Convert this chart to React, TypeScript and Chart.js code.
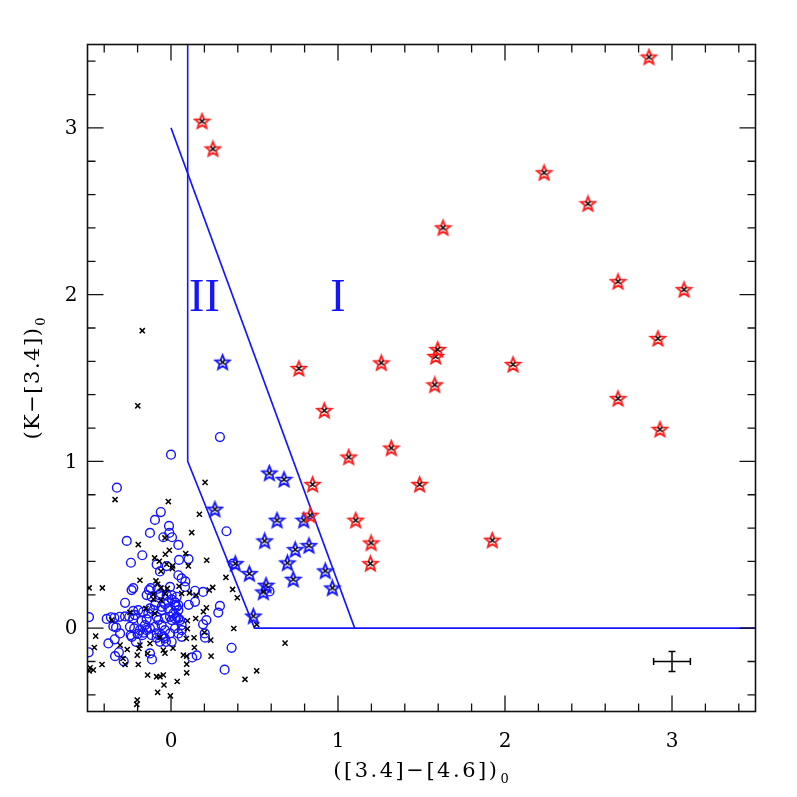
import React, { useEffect, useRef } from "react";
import { Chart, registerables } from "chart.js";
Chart.register(...registerables);

const X_MIN = -0.5;
const X_MAX = 3.5;
const Y_MIN = -0.5;
const Y_MAX = 3.5;
const xTickLabels = [0, 1, 2, 3];
const yTickLabels = [0, 1, 2, 3];
const MINOR_STEP = 0.2;
const X_TITLE = "([3.4]−[4.6])";
const Y_TITLE = "(K−[3.4])";
const TITLE_SUB = "0";

const redStars: [number, number][] = [
  [0.186, 3.04], [0.251, 2.874], [0.766, 1.557], [0.918, 1.305], [0.848, 0.862],
  [0.834, 0.677], [1.064, 1.026], [1.259, 1.591], [1.319, 1.08], [1.106, 0.647],
  [1.198, 0.511], [1.194, 0.387], [1.489, 0.862], [1.579, 1.459], [1.585, 1.629],
  [1.597, 1.671], [1.629, 2.401], [1.924, 0.527], [2.048, 1.581], [2.234, 2.731],
  [2.497, 2.545], [2.677, 2.078], [2.677, 1.377], [2.862, 3.425], [2.916, 1.737],
  [2.928, 1.192], [3.072, 2.03],
];

const blueStars: [number, number][] = [
  [0.309, 1.595], [0.589, 0.93], [0.677, 0.892], [0.263, 0.713], [0.635, 0.647],
  [0.795, 0.647], [0.561, 0.523], [0.744, 0.471], [0.826, 0.495], [0.697, 0.391],
  [0.924, 0.343], [0.732, 0.293], [0.966, 0.241], [0.469, 0.327], [0.385, 0.387],
  [0.569, 0.257], [0.553, 0.217], [0.493, 0.072],
];

const blueCircles: [number, number][] = [
  [0.293, 1.146], [0.0, 1.04], [-0.324, 0.842], [0.332, 0.581], [-0.061, 0.696], [-0.096, 0.649],
  [-0.012, 0.613], [-0.01, 0.571], [-0.126, 0.571], [0.006, 0.545], [-0.046, 0.545], [-0.265, 0.523],
  [0.044, 0.499], [-0.172, 0.437], [-0.24, 0.392], [-0.086, 0.382], [-0.026, 0.372], [0.048, 0.409],
  [0.105, 0.414], [-0.066, 0.34], [0.044, 0.317], [0.064, 0.298], [0.086, 0.28], [0.37, 0.387],
  [-0.226, 0.24], [-0.236, 0.228], [-0.275, 0.152], [-0.132, 0.228], [-0.122, 0.24], [-0.08, 0.236],
  [-0.006, 0.247], [-0.062, 0.208], [0.084, 0.247], [0.144, 0.224], [0.192, 0.217], [0.106, 0.14],
  [0.293, 0.133], [0.283, 0.093], [0.212, 0.048], [0.192, 0.023], [0.202, -0.032], [0.204, -0.057],
  [0.064, -0.052], [0.363, -0.118], [0.321, -0.249], [0.154, -0.164], [0.127, -0.176], [-0.491, 0.066],
  [-0.493, -0.145], [-0.385, 0.055], [-0.36, 0.065], [-0.339, 0.062], [-0.345, 0.01], [-0.329, 0.004],
  [-0.375, -0.092], [-0.337, -0.067], [-0.335, -0.168], [-0.312, -0.145], [-0.283, -0.199], [-0.307, 0.068],
  [-0.275, 0.07], [-0.25, 0.068], [-0.226, 0.058], [-0.226, 0.103], [-0.216, 0.078], [-0.196, 0.108],
  [-0.166, 0.098], [-0.246, 0.008], [-0.241, -0.042], [-0.22, -0.002], [-0.21, -0.082], [-0.2, -0.035],
  [-0.176, 0.043], [-0.156, 0.018], [-0.166, -0.027], [-0.146, -0.012], [-0.146, 0.054], [-0.126, -0.152],
  [-0.114, -0.188], [-0.136, 0.088], [-0.106, 0.108], [-0.086, 0.068], [-0.126, 0.118], [-0.096, 0.138],
  [-0.056, 0.128], [-0.036, 0.144], [-0.016, 0.158], [0.004, 0.172], [0.024, 0.154], [0.034, 0.128],
  [-0.056, 0.108], [-0.016, 0.118], [0.024, 0.138], [0.044, 0.108], [0.044, 0.138], [-0.076, 0.048],
  [-0.056, 0.018], [-0.036, -0.012], [-0.086, -0.032], [-0.046, -0.052], [-0.066, -0.082], [-0.03, -0.082],
  [-0.006, 0.068], [0.014, 0.088], [0.024, 0.058], [0.054, 0.048], [-0.036, 0.058], [0.004, 0.048],
  [0.034, 0.068], [0.064, -0.012], [0.044, -0.032], [0.064, 0.018], [-0.186, -0.012], [-0.172, -0.042],
  [-0.305, -0.032], [0.144, 0.158], [-0.146, 0.198], [-0.116, 0.188], [-0.072, 0.198], [-0.026, 0.198],
  [0.004, 0.198], [0.034, 0.188], [-0.126, -0.002], [-0.096, 0.008], [-0.235, -0.052], [-0.116, -0.042],
  [-0.086, -0.058], [-0.056, -0.042], [-0.036, -0.062], [-0.006, -0.032], [0.024, -0.002], [0.004, -0.082],
  [0.044, 0.058], [0.59, 0.22],
];

const crosses: [number, number][] = [
  [-0.172, 1.784], [-0.199, 1.333], [0.204, 0.874], [-0.335, 0.771], [-0.016, 0.759], [0.17, 0.683],
  [0.124, 0.573], [-0.196, 0.501], [-0.036, 0.541], [-0.01, 0.467], [-0.034, 0.443], [-0.098, 0.421],
  [-0.07, 0.401], [0.088, 0.447], [0.214, 0.407], [0.104, 0.373], [0.01, 0.373], [-0.026, 0.383],
  [-0.06, 0.341], [0.008, 0.357], [-0.186, 0.287], [-0.49, 0.241], [-0.411, 0.241], [-0.09, 0.283],
  [-0.08, 0.263], [-0.06, 0.241], [-0.106, 0.202], [-0.036, 0.208], [-0.022, 0.238], [0.048, 0.251],
  [0.064, 0.208], [0.11, 0.211], [0.15, 0.198], [0.229, 0.228], [0.25, 0.244], [0.329, 0.304],
  [0.369, 0.232], [0.397, 0.182], [0.212, 0.122], [0.194, 0.098], [0.148, 0.058], [0.098, 0.044],
  [0.098, -0.004], [0.092, -0.062], [0.138, -0.058], [0.2, -0.026], [0.238, -0.072], [0.14, -0.116],
  [0.074, -0.162], [0.094, -0.168], [0.24, -0.168], [0.094, -0.216], [0.094, -0.268], [0.037, -0.32],
  [0.443, -0.307], [0.513, -0.256], [0.376, -0.002], [0.513, 0.022], [-0.106, 0.174], [-0.06, 0.168],
  [-0.246, 0.094], [-0.355, 0.048], [-0.096, 0.088], [-0.15, 0.118], [-0.451, -0.048], [-0.459, -0.116],
  [-0.305, -0.102], [-0.262, -0.128], [-0.192, -0.122], [-0.202, -0.162], [-0.14, -0.152], [-0.036, -0.15],
  [-0.046, -0.132], [0.012, -0.12], [-0.287, -0.182], [-0.275, -0.218], [-0.413, -0.218], [-0.196, -0.218],
  [-0.485, -0.238], [-0.465, -0.251], [-0.49, -0.257], [-0.14, -0.281], [-0.086, -0.291], [-0.066, -0.291],
  [-0.046, -0.281], [-0.042, -0.341], [-0.08, -0.385], [-0.004, -0.406], [-0.202, -0.431], [-0.205, -0.457],
  [-0.066, -0.056], [-0.126, -0.092], [-0.186, -0.102], [0.683, -0.09],
];

const boundaryII: [number, number][] = [[0.1, 3.5], [0.1, 1.0], [0.5, 0.0], [3.5, 0.0]];
const boundaryI: [number, number][] = [[0.0, 3.0], [1.1, 0.0]];
const regionLabelText = ["II", "I"];
const regionLabelX = [0.2, 1.0];
const regionLabelY = [2.0, 2.0];
const errX = [3.0];
const errY = [-0.2];
const errDX = [0.11];
const errDY = [0.06];

const BLUE = "#1414ff";
const RED = "#ff1a1a";

function toXY(arr: [number, number][]) {
  return arr.map(([x, y]) => ({ x, y }));
}

function makeStar(color: string): HTMLCanvasElement {
  const c = document.createElement("canvas");
  const S = 19;
  c.width = S;
  c.height = S;
  const ctx = c.getContext("2d")!;
  const cx = S / 2, cy = S / 2 + 0.6;
  const R = 7.6, r = 3.3;
  ctx.beginPath();
  for (let i = 0; i < 10; i++) {
    const rad = i % 2 === 0 ? R : r;
    const a = -Math.PI / 2 + (i * Math.PI) / 5;
    const px = cx + rad * Math.cos(a);
    const py = cy + rad * Math.sin(a);
    if (i === 0) ctx.moveTo(px, py);
    else ctx.lineTo(px, py);
  }
  ctx.closePath();
  ctx.lineJoin = "miter";
  ctx.strokeStyle = color;
  ctx.lineWidth = 1.9;
  ctx.stroke();
  ctx.strokeStyle = "#000";
  ctx.lineWidth = 1.5;
  const d = 2.3;
  const ccy = S / 2;
  ctx.beginPath();
  ctx.moveTo(cx - d, ccy - d);
  ctx.lineTo(cx + d, ccy + d);
  ctx.moveTo(cx + d, ccy - d);
  ctx.lineTo(cx - d, ccy + d);
  ctx.stroke();
  return c;
}

const framePlugin = {
  id: "frame",
  afterDraw(chart: any) {
    const ctx = chart.ctx as CanvasRenderingContext2D;
    const xs = chart.scales.x;
    const ys = chart.scales.y;
    const { left, right, top, bottom } = chart.chartArea;
    ctx.save();
    // error bar
    ctx.strokeStyle = "#000";
    ctx.lineWidth = 1.5;
    for (let i = 0; i < errX.length; i++) {
      const px = xs.getPixelForValue(errX[i]);
      const py = ys.getPixelForValue(errY[i]);
      const x0 = xs.getPixelForValue(errX[i] - errDX[i]);
      const x1 = xs.getPixelForValue(errX[i] + errDX[i]);
      const y0 = ys.getPixelForValue(errY[i] - errDY[i]);
      const y1 = ys.getPixelForValue(errY[i] + errDY[i]);
      const cap = 3.5;
      ctx.beginPath();
      ctx.moveTo(x0, py); ctx.lineTo(x1, py);
      ctx.moveTo(px, y0); ctx.lineTo(px, y1);
      ctx.moveTo(x0, py - cap); ctx.lineTo(x0, py + cap);
      ctx.moveTo(x1, py - cap); ctx.lineTo(x1, py + cap);
      ctx.moveTo(px - cap, y0); ctx.lineTo(px + cap, y0);
      ctx.moveTo(px - cap, y1); ctx.lineTo(px + cap, y1);
      ctx.stroke();
    }
    // frame
    ctx.strokeStyle = "#111";
    ctx.lineWidth = 1.6;
    ctx.strokeRect(left, top, right - left, bottom - top);
    // ticks
    ctx.lineWidth = 1.3;
    const MAJ = 16, MIN = 8;
    ctx.beginPath();
    const nx = Math.round((X_MAX - X_MIN) / MINOR_STEP);
    for (let i = 0; i <= nx; i++) {
      const v = X_MIN + 0.1 + i * MINOR_STEP;
      if (v > X_MAX) break;
      const isMaj = Math.abs(v - Math.round(v)) < 1e-6;
      const p = xs.getPixelForValue(v);
      const L = isMaj ? MAJ : MIN;
      ctx.moveTo(p, bottom); ctx.lineTo(p, bottom - L);
      ctx.moveTo(p, top); ctx.lineTo(p, top + L);
    }
    const ny = Math.round((Y_MAX - Y_MIN) / MINOR_STEP);
    for (let i = 0; i <= ny; i++) {
      const v = Y_MIN + 0.1 + i * MINOR_STEP;
      if (v > Y_MAX) break;
      const isMaj = Math.abs(v - Math.round(v)) < 1e-6;
      const p = ys.getPixelForValue(v);
      const L = isMaj ? MAJ : MIN;
      ctx.moveTo(left, p); ctx.lineTo(left + L, p);
      ctx.moveTo(right, p); ctx.lineTo(right - L, p);
    }
    ctx.stroke();
    // tick labels
    ctx.fillStyle = "#000";
    ctx.font = "20px 'DejaVu Serif'";
    ctx.textBaseline = "alphabetic";
    ctx.textAlign = "center";
    xTickLabels.forEach((v) => {
      ctx.fillText(String(v), xs.getPixelForValue(v), bottom + 35);
    });
    ctx.textAlign = "right";
    ctx.textBaseline = "middle";
    yTickLabels.forEach((v) => {
      ctx.fillText(String(v), left - 10, ys.getPixelForValue(v) + 1);
    });
    // axis titles
    const drawTitle = (main: string, sub: string, spacing: number) => {
      ctx.font = "21px 'DejaVu Serif'";
      (ctx as any).letterSpacing = spacing + "px";
      const w1 = ctx.measureText(main).width;
      ctx.font = "13px 'DejaVu Serif'";
      (ctx as any).letterSpacing = "0px";
      const w2 = ctx.measureText(sub).width;
      const start = -(w1 + w2 + 2) / 2;
      ctx.textAlign = "left";
      ctx.textBaseline = "alphabetic";
      ctx.font = "21px 'DejaVu Serif'";
      (ctx as any).letterSpacing = spacing + "px";
      ctx.fillText(main, start, 0);
      ctx.font = "13px 'DejaVu Serif'";
      (ctx as any).letterSpacing = "0px";
      ctx.fillText(sub, start + w1 + 1, 6);
    };
    ctx.save();
    ctx.translate((left + right) / 2, 777);
    drawTitle(X_TITLE, TITLE_SUB, 2.5);
    ctx.restore();
    ctx.save();
    ctx.translate(39, (top + bottom) / 2);
    ctx.rotate(-Math.PI / 2);
    drawTitle(Y_TITLE, TITLE_SUB, 1.5);
    ctx.restore();
    // region labels
    ctx.fillStyle = BLUE;
    ctx.font = "46px 'Liberation Serif'";
    ctx.textAlign = "center";
    ctx.textBaseline = "alphabetic";
    regionLabelText.forEach((t, i) => {
      ctx.fillText(t, xs.getPixelForValue(regionLabelX[i]), ys.getPixelForValue(regionLabelY[i]) + 16);
    });
    ctx.restore();
  },
};

export default function App() {
  const ref = useRef<HTMLCanvasElement | null>(null);
  useEffect(() => {
    if (!ref.current) return;
    const redImg = makeStar(RED);
    const blueImg = makeStar(BLUE);
    const chart = new Chart(ref.current, {
      type: "scatter",
      data: {
        datasets: [
          {
            label: "red stars",
            data: toXY(redStars),
            pointStyle: redImg as any,
            pointRadius: 8,
            order: 0,
          },
          {
            label: "blue stars",
            data: toXY(blueStars),
            pointStyle: blueImg as any,
            pointRadius: 8,
            order: 1,
          },
          {
            label: "crosses",
            data: toXY(crosses),
            pointStyle: "crossRot",
            pointRadius: 3.6,
            borderColor: "#000",
            borderWidth: 1.5,
            backgroundColor: "#000",
            order: 2,
          },
          {
            label: "circles",
            data: toXY(blueCircles),
            pointStyle: "circle",
            pointRadius: 4.4,
            borderColor: BLUE,
            borderWidth: 1.4,
            backgroundColor: "rgba(0,0,0,0)",
            order: 3,
          },
          {
            label: "II boundary",
            data: toXY(boundaryII),
            showLine: true,
            pointRadius: 0,
            borderColor: BLUE,
            borderWidth: 1.6,
            fill: false,
            order: 4,
          },
          {
            label: "I boundary",
            data: toXY(boundaryI),
            showLine: true,
            pointRadius: 0,
            borderColor: BLUE,
            borderWidth: 1.6,
            fill: false,
            order: 4,
          },
        ],
      },
      options: {
        responsive: false,
        animation: false,
        events: [],
        layout: { padding: { left: 87.5, top: 44.5, right: 41.5, bottom: 85.5 } },
        plugins: { legend: { display: false }, tooltip: { enabled: false } },
        scales: {
          x: { type: "linear", min: X_MIN, max: X_MAX, display: false },
          y: { type: "linear", min: Y_MIN, max: Y_MAX, display: false },
        },
      },
      plugins: [framePlugin],
    });
    return () => chart.destroy();
  }, []);
  return (
    <div style={{ position: "absolute", left: 0, top: 0, width: 797, height: 797, background: "#fff" }}>
      <canvas ref={ref} width={797} height={797} />
    </div>
  );
}
